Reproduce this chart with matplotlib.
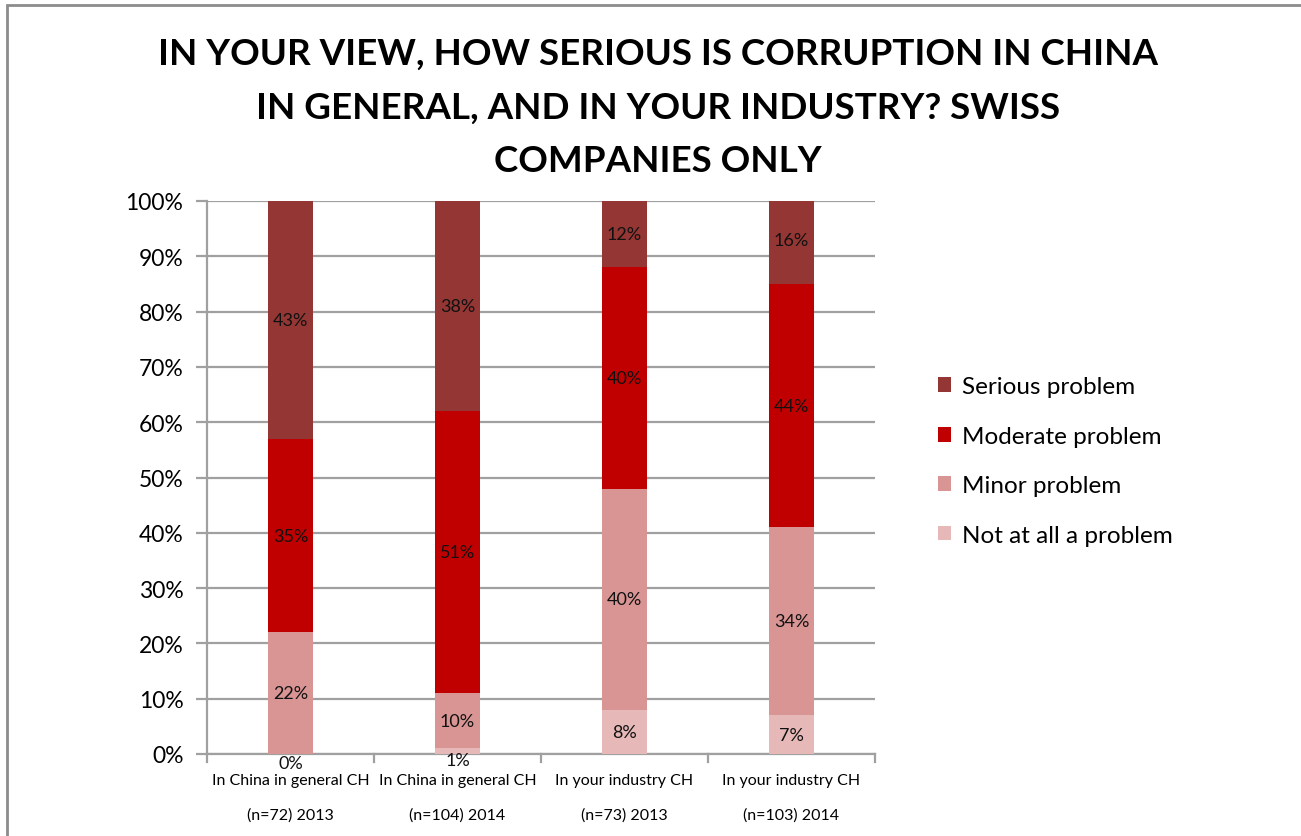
import matplotlib.pyplot as plt
import numpy as np
from matplotlib.patches import Rectangle
from matplotlib.ticker import FuncFormatter

plt.rcParams['font.family'] = ['Lato', 'DejaVu Sans']

# survey groups along the x axis
groups = ['In China in general CH\n\n(n=72) 2013',
          'In China in general CH\n\n(n=104) 2014',
          'In your industry CH\n\n(n=73) 2013',
          'In your industry CH\n\n(n=103) 2014']

# answer shares in percent, stacked from the bottom up
not_at_all = [0, 1, 8, 7]
minor = [22, 10, 40, 34]
moderate = [35, 51, 40, 44]
serious = [43, 38, 12, 16]

series = [('Not at all a problem', not_at_all, '#E6B9B8'),
          ('Minor problem', minor, '#D99594'),
          ('Moderate problem', moderate, '#C00000'),
          ('Serious problem', serious, '#943634')]

fig = plt.figure(figsize=(13.01, 8.37), dpi=100)
ax = fig.add_axes([207 / 1301, 82 / 837, 668 / 1301, 553 / 837])

x = np.arange(len(groups))
bottom = np.zeros(len(groups))
handles = []
for name, vals, col in series:
    vals = np.array(vals, dtype=float)
    bars = ax.bar(x, vals, width=0.27, bottom=bottom, color=col, label=name, zorder=3)
    handles.append(bars)
    for xi, b, v in zip(x, bottom, vals):
        y = b + v / 2
        if v < 2:
            y = b + v / 2 - 1.6
        ax.text(xi, y, f'{int(v)}%', ha='center', va='center', fontsize=13,
                color='#111111', zorder=4)
    bottom += vals

ax.set_xlim(-0.5, 3.5)
ax.set_ylim(0, 100)
ax.set_yticks(np.arange(0, 101, 10))
ax.yaxis.set_major_formatter(FuncFormatter(lambda v, p: f'{int(v)}%'))
ax.grid(axis='y', color='#A0A0A0', linewidth=1.6, zorder=0)

ax.set_xticks(x)
ax.set_xticklabels(groups, fontsize=11.5, linespacing=1.25)
ax.tick_params(axis='x', length=0, pad=14)
ax.tick_params(axis='y', labelsize=16.5, length=8, color='#A0A0A0', width=1.6, pad=9)
for xb in np.arange(-0.5, 4.0, 1.0):
    ax.plot([xb, xb], [0, -1.5], color='#A0A0A0', lw=1.6, clip_on=False, zorder=2)

for s in ['top', 'right']:
    ax.spines[s].set_visible(False)
for s in ['left', 'bottom']:
    ax.spines[s].set_color('#A0A0A0')
    ax.spines[s].set_linewidth(1.6)

leg = fig.legend(handles[::-1], [s[0] for s in series[::-1]],
                 loc='center left', bbox_to_anchor=(916 / 1301, 1 - 462 / 837),
                 frameon=False, fontsize=17.5, handlelength=0.55, handleheight=0.55,
                 handletextpad=0.45, labelspacing=1.17)

fig.suptitle('IN YOUR VIEW, HOW SERIOUS IS CORRUPTION IN CHINA\n'
             'IN GENERAL, AND IN YOUR INDUSTRY? SWISS\nCOMPANIES ONLY',
             x=658 / 1301, y=1 - 38 / 837, va='top', fontsize=26.5, fontweight='bold',
             linespacing=1.76)

# outer frame of the chart area
fig.patches.append(Rectangle((7 / 1301, -0.05), 1.2, 1 - 6 / 837 + 0.05,
                             transform=fig.transFigure, fill=False,
                             edgecolor='#8C8C8C', linewidth=2))

fig.savefig('out.png', dpi=100)
